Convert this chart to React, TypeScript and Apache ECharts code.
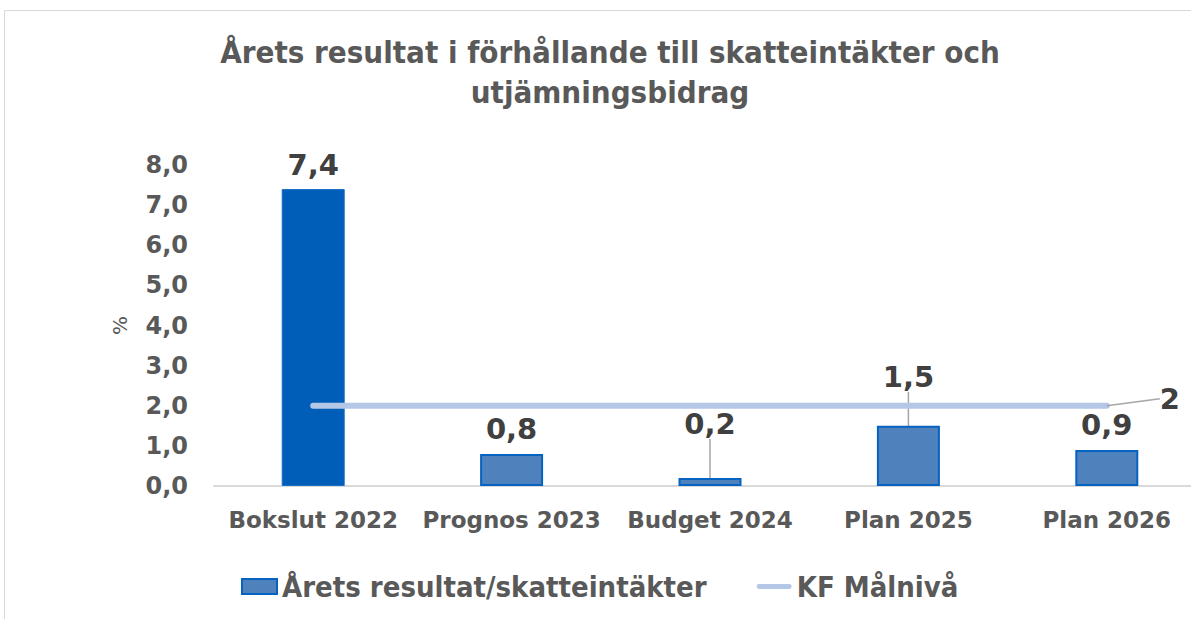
import React, { useEffect, useRef } from "react";
import * as echarts from "echarts";

const categories = ["Bokslut 2022", "Prognos 2023", "Budget 2024", "Plan 2025", "Plan 2026"];
const resultValues = [7.4, 0.8, 0.2, 1.5, 0.9];
const targetValues = [2, 2, 2, 2, 2];
const labelShiftY = [0, 0, -29, -24, 0];
const labelGapBelow = [0, 0, 22, 4, 0];
const yTicks = { min: 0, max: 8, interval: 1 };

const fmt = (v: number) => v.toFixed(1).replace(".", ",");
const CONDENSED = "'DejaVu Sans Condensed', 'DejaVu Sans', Verdana, sans-serif";
const FONT = "'DejaVu Sans', Verdana, sans-serif";

export default function App() {
  const ref = useRef<HTMLDivElement>(null);
  useEffect(() => {
    if (!ref.current) return;
    const chart = echarts.init(ref.current, undefined, { renderer: "svg" });
    chart.setOption({
      animation: false,
      backgroundColor: "#ffffff",
      title: {
        text: "Årets resultat i förhållande till skatteintäkter och\nutjämningsbidrag",
        left: 605,
        textAlign: "center",
        top: 27,
        textStyle: {
          fontFamily: CONDENSED,
          fontWeight: "bold",
          fontSize: 31,
          lineHeight: 40,
          color: "#595959",
        },
      },
      graphic: [
        { type: "line", shape: { x1: 4.5, y1: 10.5, x2: 1240, y2: 10.5 }, style: { stroke: "#d9d9d9", lineWidth: 1 } },
        { type: "line", shape: { x1: 4.5, y1: 10.5, x2: 4.5, y2: 619 }, style: { stroke: "#d9d9d9", lineWidth: 1 } },
      ],
      legend: {
        bottom: 13,
        left: 236,
        itemWidth: 35,
        itemHeight: 15,
        itemGap: 50,
        textStyle: { fontFamily: CONDENSED, fontWeight: "bold", fontSize: 29, color: "#595959" },
        data: [
          { name: "Årets resultat/skatteintäkter", icon: "rect", itemStyle: { color: "#4F81BD", borderColor: "#0563C1", borderWidth: 2 } },
          { name: "KF Målnivå", icon: "path://M3,0 L40,0 A3,3 0 0 1 40,6 L3,6 A3,3 0 0 1 3,0 Z", itemStyle: { color: "#B4C7E7" } },
        ],
      },
      grid: { left: 214, top: 165, width: 992, height: 321, containLabel: false },
      xAxis: {
        type: "category",
        data: categories,
        axisLine: { show: true, lineStyle: { color: "#d9d9d9", width: 2 } },
        axisTick: { show: false },
        axisLabel: { interval: 0, fontFamily: FONT, fontWeight: "bold", fontSize: 23, color: "#595959", margin: 22 },
      },
      yAxis: {
        type: "value",
        min: yTicks.min,
        max: yTicks.max,
        interval: yTicks.interval,
        name: "%",
        nameLocation: "middle",
        nameRotate: 90,
        nameGap: 84,
        nameTextStyle: { fontFamily: FONT, fontSize: 20, color: "#595959" },
        splitLine: { show: false },
        axisLine: { show: false },
        axisTick: { show: false },
        axisLabel: { fontFamily: FONT, fontWeight: "bold", fontSize: 24, color: "#595959", margin: 26, formatter: (v: number) => fmt(v) },
      },
      series: [
        {
          name: "Årets resultat/skatteintäkter",
          type: "bar",
          barWidth: 63,
          data: resultValues.map((v, i) => {
            const item: any = { value: v };
            if (i === 0) item.itemStyle = { color: "#005EB8", borderColor: "#1a6fc9", borderWidth: 1 };
            if (labelShiftY[i] === 0) item.labelLine = { show: false };
            else item.label = { padding: [0, 0, labelGapBelow[i], 0] };
            return item;
          }),
          itemStyle: { color: "#4F81BD", borderColor: "#0563C1", borderWidth: 2 },
          label: {
            show: true,
            position: "top",
            distance: 10,
            fontFamily: FONT,
            fontWeight: "bold",
            fontSize: 29,
            color: "#404040",
            formatter: (p: any) => fmt(p.value),
          },
          labelLayout: (p: any) => ({ dy: labelShiftY[p.dataIndex] + labelGapBelow[p.dataIndex] }),
          labelLine: { show: true, lineStyle: { color: "#a6a6a6", width: 1.5 } },
          z: 2,
        },
        {
          name: "KF Målnivå",
          type: "line",
          data: targetValues.map((v, i) =>
            i === targetValues.length - 1
              ? {
                  value: v,
                  label: {
                    show: true,
                    position: "right",
                    fontFamily: FONT,
                    fontWeight: "bold",
                    fontSize: 29,
                    color: "#404040",
                    formatter: "{c}",
                  },
                }
              : { value: v }
          ),
          symbol: "circle",
          symbolSize: 0.1,
          showSymbol: true,
          itemStyle: { color: "#B4C7E7" },
          lineStyle: { color: "#B4C7E7", width: 6, cap: "round" },
          label: { show: false },
          labelLayout: { dx: 48, dy: -7 },
          labelLine: { show: true, lineStyle: { color: "#a6a6a6", width: 1.5 } },
          z: 3,
        },
      ],
    });
    return () => chart.dispose();
  }, []);
  return (
    <div style={{ position: "absolute", left: 0, top: 0, width: 1191, height: 619, overflow: "hidden" }}>
      <div ref={ref} style={{ position: "absolute", left: 0, top: 0, width: 1240, height: 619 }} />
    </div>
  );
}
